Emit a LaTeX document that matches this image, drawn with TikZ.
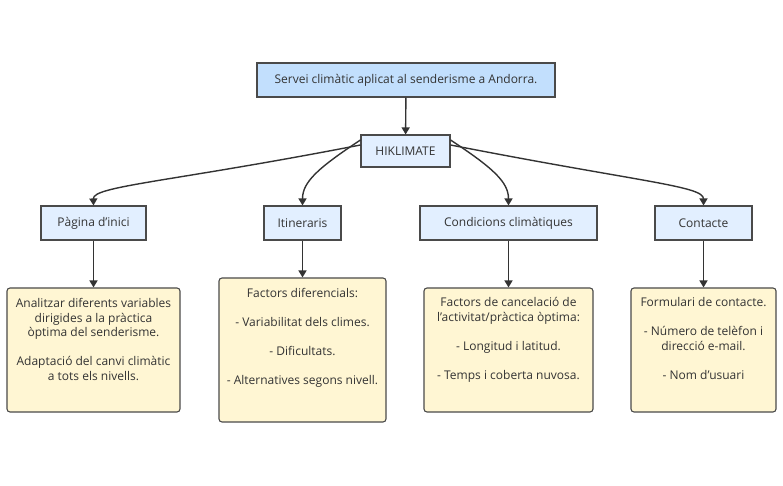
\documentclass[tikz,border=0pt]{standalone}
\usepackage{fontspec}
\setmainfont{Open Sans}
\usetikzlibrary{arrows.meta}
\definecolor{topfill}{HTML}{C2DFFD}
\definecolor{bluefill}{HTML}{E2EFFF}
\definecolor{yelfill}{HTML}{FFF6D3}
\definecolor{edge}{HTML}{4A4A4A}
\definecolor{wire}{HTML}{333333}
\definecolor{txt}{HTML}{333333}
\newcommand{\apos}{\char"0027\relax}
\tikzset{
  box/.style={draw=edge, line width=1.1bp, inner sep=0pt, font=\fontsize{12bp}{14.5bp}\selectfont, text=txt},
  topbox/.style={box, fill=topfill},
  catbox/.style={box, fill=bluefill},
  notebox/.style={box, fill=yelfill, rounded corners=3bp},
  notetext/.style={inner sep=0pt, align=center, anchor=north, font=\fontsize{12bp}{14.5bp}\selectfont, text=txt},
  wirestyle/.style={draw=wire, line width=1.4bp, -{Triangle[length=7bp,width=8bp]}}
}
\begin{document}
\begin{tikzpicture}[x=1bp,y=-1bp]
\useasboundingbox (0,0) rectangle (783,486);
\node[topbox, minimum width=298bp, minimum height=34bp] (top) at (406,80) {Servei climàtic aplicat al senderisme a Andorra.};
\node[catbox, minimum width=89bp, minimum height=32bp] (hik) at (405.5,151) {HIKLIMATE};
\node[catbox, minimum width=105bp, minimum height=34bp] (pag) at (93.5,223) {Pàgina d\apos inici};
\node[catbox, minimum width=77bp, minimum height=34bp] (iti) at (302.5,223) {Itineraris};
\node[catbox, minimum width=177bp, minimum height=34bp] (con) at (508.5,223) {Condicions climàtiques};
\node[catbox, minimum width=97bp, minimum height=34bp] (cnt) at (703.5,223) {Contacte};

\node[notebox, minimum width=173bp, minimum height=124bp] (y1) at (93.5,350) {};
\node[notebox, minimum width=167bp, minimum height=144bp] (y2) at (302.5,350) {};
\node[notebox, minimum width=169bp, minimum height=124bp] (y3) at (508.5,350) {};
\node[notebox, minimum width=145bp, minimum height=124bp] (y4) at (703.5,350) {};

\node[notetext] (t1) at ([yshift=-11bp]y1.north) {Analitzar diferents variables\\dirigides a la pràctica\\òptima del senderisme.\\[14.5bp]Adaptació del canvi climàtic\\a tots els nivells.};
\node[notetext] (t2) at ([yshift=-11bp]y2.north) {Factors diferencials:\\[14.5bp]- Variabilitat dels climes.\\[14.5bp]- Dificultats.\\[14.5bp]- Alternatives segons nivell.};
\node[notetext] (t3) at ([yshift=-10bp]y3.north) {Factors de cancelació de\\l\apos activitat/pràctica òptima:\\[14.5bp]- Longitud i latitud.\\[14.5bp]- Temps i coberta nuvosa.};
\node[notetext] (t4) at ([yshift=-10bp]y4.north) {Formulari de contacte.\\[14.5bp]- Número de telèfon i\\direcció e-mail.\\[14.5bp]- Nom d\apos usuari};

\draw[wirestyle] (top) -- (hik);
\draw[wirestyle] ([yshift=6bp]hik.west) .. controls (170,182) and (93,186) .. (pag.north);
\draw[wirestyle] ([yshift=11bp]hik.west) .. controls (318,168) and (302.5,182) .. (iti.north);
\draw[wirestyle] ([yshift=11bp]hik.east) .. controls (493,168) and (508.5,182) .. (con.north);
\draw[wirestyle] ([yshift=6bp]hik.east) .. controls (640,182) and (703.5,186) .. (cnt.north);
\draw[wirestyle] (pag) -- (y1);
\draw[wirestyle] (iti) -- (y2);
\draw[wirestyle] (con) -- (y3);
\draw[wirestyle] (cnt) -- (y4);
\end{tikzpicture}
\end{document}
